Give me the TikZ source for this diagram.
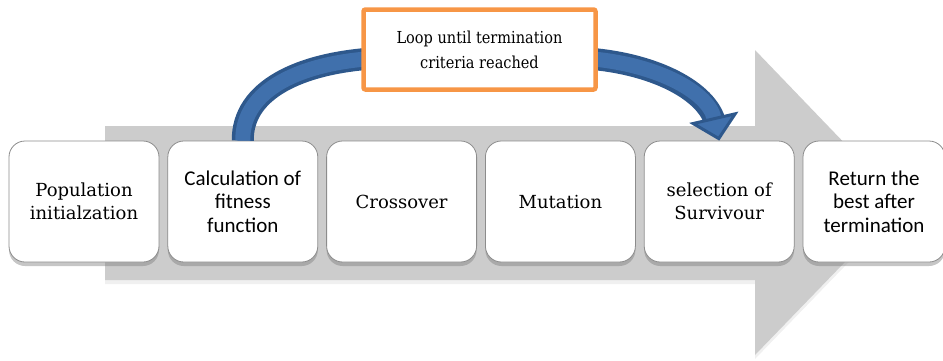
\documentclass[tikz,border=0pt]{standalone}
\usepackage{fontspec}
\setmainfont{DejaVu Serif}
\newfontfamily\calfont{Carlito}
\newfontfamily\loopfont{DejaVu Serif}[FakeStretch=0.88]
\usetikzlibrary{positioning,shadows,arrows.meta}
\definecolor{flowgray}{RGB}{204,204,204}
\definecolor{loopdark}{RGB}{46,88,140}
\definecolor{loopblue}{RGB}{64,112,172}
\definecolor{looporange}{RGB}{247,150,70}

\begin{document}
\begin{tikzpicture}[x=1pt, y=-1pt, node distance=8pt,
    stage/.style={draw=gray!90, line width=0.8pt, fill=white, rounded corners=16pt,
        minimum width=150pt, minimum height=121pt, inner sep=0pt, align=center,
        font=\fontsize{18}{23}\selectfont,
        drop shadow={shadow xshift=0pt, shadow yshift=-4pt, opacity=0.45}},
    sans/.style={font=\calfont\fontsize{21}{23.5}\selectfont}]
    \useasboundingbox (0,0) rectangle (943,360);

    \fill[flowgray, drop shadow={shadow xshift=0pt, shadow yshift=-4pt, opacity=0.12}]
        (105,126) -- (755,126) -- (755,50) -- (902,203) -- (755,355) -- (755,280) -- (105,280) -- cycle;

    \node[stage] (pop) at (84,201.5) {Population\\initialzation};
    \node[stage, sans, right=of pop] (calc) {Calculation of\\fitness\\function};
    \node[stage, right=of calc] (cross) {Crossover};
    \node[stage, right=of cross] (mut) {Mutation};
    \node[stage, right=of mut] (sel) {selection of\\Survivour};
    \node[stage, sans, right=of sel, minimum width=142pt] (ret) {Return the\\best after\\termination};

    \draw[loopdark, line width=22pt, shorten >=18pt] (calc.north) .. controls (242,90) and (300,62) .. (380,58)
        -- (580,58) .. controls (655,62) and (708,92) .. (sel.north);
    \draw[loopblue, line width=15pt, -{Triangle[width=50pt,length=24pt,line width=3pt,color=loopdark,fill=loopblue]}]
        (calc.north) .. controls (242,90) and (300,62) .. (380,58)
        -- (580,58) .. controls (655,62) and (708,92) .. (sel.north);

    \node[draw=looporange, line width=4.5pt, fill=white, rounded corners=2pt, minimum width=232pt,
        minimum height=80pt, align=center, font=\loopfont\fontsize{16.5}{25}\selectfont]
        (loop) at (479.5,49.5) {Loop until termination\\criteria reached};
\end{tikzpicture}
\end{document}
